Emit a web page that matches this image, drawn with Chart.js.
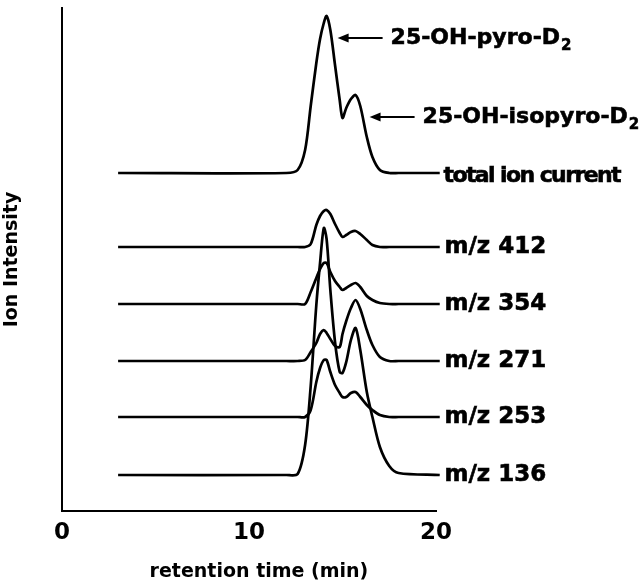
<!DOCTYPE html>
<html>
<head>
<meta charset="utf-8">
<script src="https://cdn.jsdelivr.net/npm/chart.js@4.4.0/dist/chart.umd.min.js"></script>
<style>
  html, body { margin: 0; padding: 0; background: #fff; }
</style>
</head>
<body>
<canvas id="myChart" width="641" height="585"></canvas>
<script>
"use strict";
const times = [3, 12, 12.6, 13.0, 13.3, 13.6, 13.8, 14.0, 14.15, 14.35, 14.6, 14.85, 15.0, 15.2, 15.45, 15.7, 15.95, 16.3, 16.6, 17.0, 17.5, 18.0, 20.2];

// signal above each trace's own baseline
const ticValues   = [0, 0, 3, 23, 67, 110, 134, 150, 157, 143, 108, 73, 55, 65, 74, 78, 67, 36, 16, 3, 0, 0, 0];
const mz412Values = [0, 0, 0, 0, 3, 22, 31, 36, 37, 33, 23, 14, 10, 12, 15, 16, 13, 7, 2, 0, 0, 0, 0];
const mz354Values = [0, 0, 0, 0, 12, 26, 35, 41, 41, 32, 23, 17, 14, 16, 19, 21, 17, 8, 4, 1, 0, 0, 0];
const mz271Values = [0, 0, 0, 1, 9, 18, 27, 31, 28, 22, 15, 14, 27, 40, 53, 61, 52, 31, 16, 4, 0, 0, 0];
const mz253Values = [0, 0, 0, 0, 7, 35, 49, 57, 57, 45, 32, 24, 20, 20, 24, 25, 20, 12, 7, 2, 0, 0, 0];
const mz136Values = [0, 0, 1, 30, 89, 170, 212, 247, 236, 185, 133, 103, 102, 113, 135, 147, 125, 83, 58, 28, 9, 2, 0];

const traceNames = ["total ion current", "m/z 412", "m/z 354", "m/z 271", "m/z 253", "m/z 136"];
const traceValues = [ticValues, mz412Values, mz354Values, mz271Values, mz253Values, mz136Values];
const traceOffsets = [338, 264, 207, 150, 94, 36];

const peakNames = ["25-OH-pyro-D", "25-OH-isopyro-D"];
const peakTimes = [14.15, 15.7];

const xTicks = [0, 10, 20];

const FONT = "'DejaVu Sans', sans-serif";

const datasets = traceNames.map((name, i) => ({
  label: name,
  data: times.map((t, j) => ({ x: t, y: traceOffsets[i] + traceValues[i][j] })),
  borderColor: "#000",
  borderWidth: 2.7,
  pointRadius: 0,
  tension: 0.3,
  fill: false,
  clip: false,
}));

// text and arrows to the right of the traces
const labelPlugin = {
  id: "traceLabels",
  afterDatasetsDraw(chart) {
    const { ctx, scales: { x, y } } = chart;
    ctx.save();
    ctx.fillStyle = "#000";
    ctx.strokeStyle = "#000";
    ctx.textBaseline = "middle";
    ctx.textAlign = "left";
    ctx.lineWidth = 0.6;

    const labelX = x.getPixelForValue(20.4);
    traceNames.forEach((name, i) => {
      const yy = y.getPixelForValue(traceOffsets[i]);
      if (i === 0) {
        ctx.font = "bold 22px " + FONT;
        ctx.letterSpacing = "-1.6px";
        ctx.fillText(name, labelX, yy + 3);
        ctx.strokeText(name, labelX, yy + 3);
        ctx.letterSpacing = "0px";
      } else {
        ctx.font = "bold 23px " + FONT;
        ctx.fillText(name, labelX + 1, yy);
        ctx.strokeText(name, labelX + 1, yy);
      }
    });

    peakNames.forEach((name, k) => {
      const idx = times.indexOf(peakTimes[k]);
      const px = x.getPixelForValue(peakTimes[k]);
      const py = y.getPixelForValue(traceOffsets[0] + ticValues[idx]) + 22;
      const tipX = px + 11 + k * 3;
      const tailX = tipX + 45;
      ctx.lineWidth = 2;
      ctx.beginPath();
      ctx.moveTo(tipX + 8, py);
      ctx.lineTo(tailX, py);
      ctx.stroke();
      ctx.beginPath();
      ctx.moveTo(tipX, py);
      ctx.lineTo(tipX + 11, py - 4.5);
      ctx.lineTo(tipX + 11, py + 4.5);
      ctx.closePath();
      ctx.fill();

      ctx.lineWidth = 0.6;
      ctx.font = "bold 22px " + FONT;
      const tx = tailX + 8;
      ctx.fillText(name, tx, py);
      ctx.strokeText(name, tx, py);
      const w = ctx.measureText(name).width;
      ctx.font = "bold 15px " + FONT;
      ctx.fillText("2", tx + w + 1, py + 8);
      ctx.strokeText("2", tx + w + 1, py + 8);
    });
    ctx.restore();
  }
};

const ctx = document.getElementById("myChart");
const myChart = new Chart(ctx, {
  type: "line",
  data: { datasets: datasets },
  options: {
    responsive: false,
    animation: false,
    devicePixelRatio: 1,
    layout: { padding: { top: 8, right: 205, left: 0, bottom: 0 } },
    plugins: {
      legend: { display: false },
      tooltip: { enabled: false },
    },
    scales: {
      x: {
        type: "linear",
        min: 0,
        max: 20,
        afterBuildTicks: (scale) => { scale.ticks = xTicks.map((v) => ({ value: v })); },
        afterFit: (scale) => { scale.height = 74; },
        grid: { display: false, drawTicks: false },
        border: { display: true, color: "#000", width: 2 },
        ticks: {
          color: "#000",
          padding: 8,
          maxRotation: 0,
          font: { family: FONT, size: 23, weight: "bold" },
        },
        title: {
          display: true,
          text: "   retention time (min)",
          color: "#000",
          padding: { top: 0, bottom: 2 },
          font: { family: FONT, size: 19, weight: "bold" },
        },
      },
      y: {
        type: "linear",
        min: 0,
        max: 503,
        afterFit: (scale) => { scale.width = 62; },
        grid: { display: false, drawTicks: false },
        border: { display: true, color: "#000", width: 2 },
        ticks: { display: false },
        title: {
          display: true,
          text: "Ion Intensity",
          color: "#000",
          padding: { top: 1, bottom: 0 },
          font: { family: FONT, size: 19, weight: "bold" },
        },
      },
    },
  },
  plugins: [labelPlugin],
});
</script>
</body>
</html>
